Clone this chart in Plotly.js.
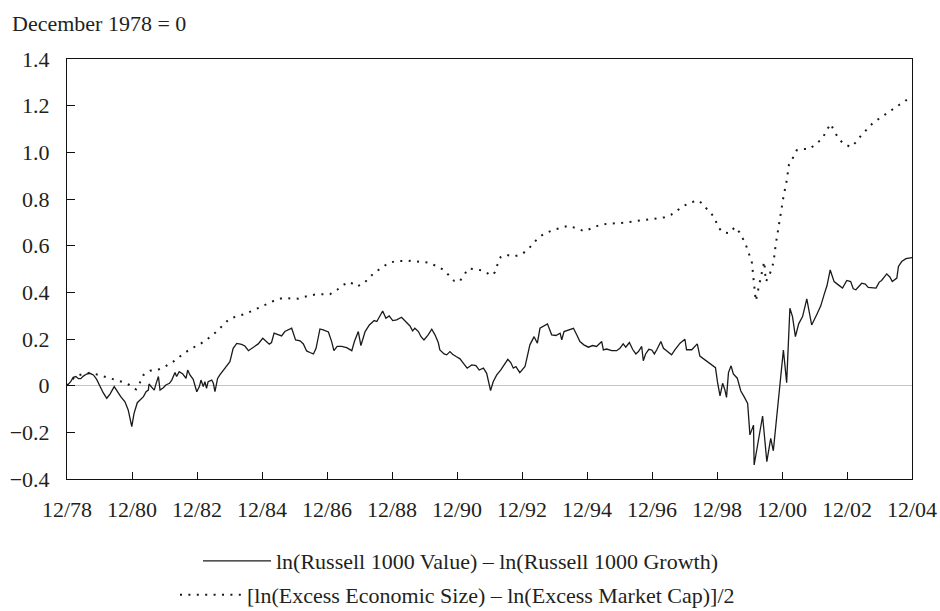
<!DOCTYPE html>
<html>
<head>
<meta charset="utf-8">
<script src="https://cdn.plot.ly/plotly-3.0.1.min.js"></script>
<style>html,body{margin:0;padding:0;background:#fff;}#chart{width:940px;height:611px;}</style>
</head>
<body>
<div id="chart"></div>
<script>
// Series 1: ln(Russell 1000 Value) - ln(Russell 1000 Growth) (decimal years)
var valueGrowthYears = [
1978.92,1979.03,1979.11,1979.19,1979.27,1979.34,1979.42,1979.52,1979.62,1979.73,1979.83,1979.93,
1980.03,1980.14,1980.24,1980.37,1980.47,1980.57,1980.70,1980.80,1980.91,1980.98,
1981.08,1981.18,1981.27,1981.35,1981.42,1981.44,1981.52,1981.60,1981.66,1981.73,1981.78,1981.88,1981.96,
1982.07,1982.14,1982.24,1982.29,1982.37,1982.48,1982.58,1982.63,1982.70,1982.80,1982.91,1982.99,
1983.04,1983.11,1983.16,1983.21,1983.26,1983.37,1983.42,1983.47,1983.55,1983.62,1983.73,1983.83,1983.93,
1984.03,1984.14,1984.29,1984.39,1984.50,1984.60,1984.70,1984.80,
1984.94,1985.04,1985.14,1985.21,1985.29,1985.39,1985.52,1985.62,1985.73,1985.83,1985.95,
1986.09,1986.19,1986.29,1986.39,1986.50,1986.58,1986.70,1986.80,1986.96,
1987.06,1987.13,1987.23,1987.37,1987.52,1987.68,1987.76,1987.88,1987.96,
1988.09,1988.22,1988.37,1988.45,1988.55,1988.63,1988.73,1988.83,1988.94,
1989.06,1989.21,1989.37,1989.47,1989.55,1989.62,1989.73,1989.81,1989.90,
1990.03,1990.14,1990.24,1990.34,1990.39,1990.52,1990.60,1990.70,1990.78,1990.89,
1991.01,1991.11,1991.23,1991.37,1991.50,1991.60,1991.73,1991.83,1991.95,
1992.03,1992.14,1992.26,1992.36,1992.48,1992.57,1992.65,1992.73,1992.85,
1993.01,1993.11,1993.16,1993.29,1993.39,1993.47,1993.57,1993.70,1993.83,1993.96,
1994.09,1994.14,1994.21,1994.34,1994.50,1994.60,1994.70,1994.82,1994.96,
1995.09,1995.21,1995.37,1995.42,1995.52,1995.68,1995.83,1995.93,
1996.03,1996.11,1996.22,1996.32,1996.42,1996.50,1996.60,1996.65,1996.72,1996.82,1996.91,1996.99,
1997.06,1997.19,1997.27,1997.39,1997.52,1997.62,1997.78,1997.93,1997.98,
1998.14,1998.31,1998.39,1998.55,1998.70,1998.87,1998.93,
1999.01,1999.09,1999.16,1999.21,1999.27,1999.35,1999.42,1999.54,1999.65,1999.75,1999.86,1999.93,
2000.04,2000.06,2000.19,2000.32,2000.45,2000.57,2000.65,2000.77,2000.86,2000.96,
2001.06,2001.16,2001.24,2001.33,2001.43,2001.55,2001.68,2001.83,2001.98,
2002.11,2002.21,2002.30,2002.40,2002.52,2002.65,2002.78,2002.91,
2003.03,2003.11,2003.19,2003.37,2003.48,2003.57,2003.81,2003.91,2003.98,
2004.14,2004.24,2004.31,2004.45,2004.50,2004.60,2004.73,2004.86,2004.92
];
var valueGrowth = [
0.000,0.017,0.036,0.039,0.030,0.030,0.041,0.050,0.053,0.046,0.027,-0.004,
-0.030,-0.054,-0.036,-0.004,-0.026,-0.047,-0.069,-0.104,-0.176,-0.119,
-0.073,-0.061,-0.047,-0.026,-0.019,0.007,-0.004,-0.019,0.010,0.039,-0.019,-0.009,0.003,
0.010,0.024,0.056,0.039,0.060,0.050,0.031,0.067,0.046,0.027,-0.026,-0.004,
0.024,-0.004,0.017,-0.011,0.017,0.024,0.010,-0.026,0.031,0.046,0.067,0.089,0.103,
0.160,0.181,0.177,0.170,0.150,0.160,0.171,0.179,
0.203,0.189,0.178,0.185,0.225,0.220,0.213,0.232,0.239,0.246,0.196,
0.192,0.179,0.149,0.142,0.136,0.160,0.243,0.239,0.230,
0.189,0.150,0.168,0.168,0.163,0.150,0.189,0.232,0.172,
0.232,0.260,0.279,0.275,0.303,0.320,0.289,0.299,0.279,
0.282,0.293,0.270,0.256,0.235,0.246,0.232,0.210,0.196,
0.218,0.242,0.218,0.185,0.153,0.136,0.132,0.146,0.135,0.125,
0.115,0.097,0.075,0.089,0.086,0.067,0.075,0.053,-0.021,
0.017,0.046,0.067,0.089,0.113,0.099,0.075,0.082,0.056,
0.082,0.139,0.175,0.210,0.182,0.246,0.253,0.265,0.218,0.215,
0.225,0.196,0.232,0.239,0.246,0.218,0.189,0.175,0.165,
0.172,0.168,0.189,0.153,0.157,0.150,0.150,0.160,
0.179,0.165,0.185,0.156,0.136,0.146,0.168,0.107,0.136,0.156,0.153,0.136,
0.153,0.189,0.160,0.146,0.132,0.153,0.182,0.199,0.154,
0.154,0.179,0.127,0.110,0.093,0.077,0.017,
-0.044,0.010,-0.018,-0.050,0.056,0.085,0.050,0.032,-0.023,-0.047,-0.076,-0.211,
-0.169,-0.340,-0.233,-0.130,-0.326,-0.226,-0.279,-0.119,0.010,0.153,
0.013,0.332,0.296,0.210,0.265,0.296,0.372,0.260,0.303,
0.342,0.389,0.428,0.496,0.446,0.432,0.418,0.451,
0.446,0.415,0.411,0.439,0.435,0.421,0.418,0.444,0.451,
0.479,0.465,0.446,0.461,0.511,0.532,0.544,0.549,0.549
];

// Series 2: [ln(Excess Economic Size) - ln(Excess Market Cap)]/2
var sizeCapYears = [
1978.92,1979.16,1979.40,1979.65,1979.88,1980.12,1980.36,1980.60,1980.84,1981.04,1981.16,1981.27,1981.47,1981.70,1981.92,
1982.15,1982.34,1982.54,1982.74,1982.97,1983.17,1983.38,1983.57,1983.73,1983.91,1984.14,1984.39,1984.62,
1984.86,1985.08,1985.30,1985.53,1985.78,1986.03,1986.27,1986.52,1986.76,1987.01,1987.23,1987.42,1987.62,1987.83,
1988.03,1988.20,1988.38,1988.59,1988.80,1989.04,1989.29,1989.53,1989.78,1990.02,1990.26,1990.48,1990.66,1990.83,1990.99,
1991.13,1991.27,1991.50,1991.75,1991.96,1992.09,1992.16,1992.26,1992.42,1992.67,1992.92,1993.11,1993.27,1993.44,1993.65,1993.88,
1994.12,1994.35,1994.60,1994.83,1995.07,1995.30,1995.54,1995.78,1996.03,1996.29,1996.55,1996.78,1997.04,1997.29,1997.50,1997.71,
1997.90,1998.14,1998.37,1998.55,1998.72,1998.86,1998.94,1999.09,1999.30,1999.47,1999.61,1999.73,1999.83,1999.91,1999.99,
2000.11,2000.37,2000.42,2000.50,2000.60,2000.66,2000.72,2000.80,2000.88,2000.96,2001.06,2001.13,2001.25,2001.37,2001.55,2001.76,
2001.96,2002.16,2002.27,2002.41,2002.53,2002.65,2002.81,2003.04,2003.19,2003.35,2003.52,2003.69,2003.89,2004.09,2004.30,2004.51,2004.72,2004.92
];
var sizeCap = [
0.000,0.039,0.050,0.056,0.046,0.036,0.027,0.017,0.003,-0.016,0.013,0.046,0.064,0.067,0.081,
0.099,0.120,0.141,0.160,0.174,0.193,0.214,0.239,0.260,0.286,0.297,0.307,0.321,
0.336,0.351,0.365,0.375,0.375,0.373,0.382,0.390,0.392,0.392,0.411,0.432,0.445,0.425,
0.436,0.461,0.485,0.504,0.525,0.534,0.535,0.535,0.531,0.528,0.514,0.498,0.474,0.449,0.445,
0.474,0.502,0.499,0.492,0.472,0.486,0.518,0.551,0.561,0.554,0.564,0.585,0.611,0.637,0.654,0.667,
0.677,0.685,0.674,0.662,0.675,0.688,0.694,0.695,0.698,0.703,0.708,0.711,0.717,0.721,0.732,0.754,
0.771,0.787,0.793,0.765,0.742,0.714,0.682,0.657,0.654,0.680,0.657,0.625,0.594,0.561,0.528,
0.363,0.532,0.446,0.465,0.500,0.532,0.601,0.671,0.740,0.808,0.877,0.946,0.976,1.009,1.014,1.014,
1.036,1.059,1.089,1.122,1.090,1.061,1.036,1.023,1.043,1.072,1.097,1.122,1.143,1.162,1.183,1.205,1.222,1.238
];

var xTickVals = [1978.917,1980.917,1982.917,1984.917,1986.917,1988.917,1990.917,1992.917,1994.917,1996.917,1998.917,2000.917,2002.917,2004.917];
var xTickText = ['12/78','12/80','12/82','12/84','12/86','12/88','12/90','12/92','12/94','12/96','12/98','12/00','12/02','12/04'];
var yTickVals = [-0.4,-0.2,0,0.2,0.4,0.6,0.8,1.0,1.2,1.4];
var yTickText = ['\u22120.4','\u22120.2','0','0.2','0.4','0.6','0.8','1.0','1.2','1.4'];

var serif = '"Liberation Serif", "Times New Roman", serif';
var ink = '#231f20';

var traces = [
  {x: valueGrowthYears, y: valueGrowth, type: 'scatter', mode: 'lines',
   name: 'ln(Russell 1000 Value) \u2013 ln(Russell 1000 Growth)',
   line: {color: '#1a1a1a', width: 1.3}, legend: 'legend'},
  {x: sizeCapYears, y: sizeCap, type: 'scatter', mode: 'lines',
   name: '[ln(Excess Economic Size) \u2013 ln(Excess Market Cap)]/2',
   line: {color: '#1a1a1a', width: 2, dash: '2px,6.4px'}, legend: 'legend2'}
];

var layout = {
  width: 940, height: 611,
  margin: {l: 67, r: 28, t: 59, b: 132, pad: 0, autoexpand: false},
  paper_bgcolor: '#fff', plot_bgcolor: '#fff',
  font: {family: serif, color: ink, size: 22},
  title: {text: 'December 1978 = 0', font: {family: serif, size: 22, color: ink},
          x: 12/940, xanchor: 'left', xref: 'container',
          y: 1 - 23/611, yanchor: 'middle', yref: 'container'},
  xaxis: {range: [1978.917, 2004.917], tickvals: xTickVals, ticktext: xTickText,
          ticks: 'inside', ticklen: 7, tickwidth: 1, tickcolor: '#111',
          showline: true, linecolor: '#111', linewidth: 1, mirror: true,
          showgrid: false, zeroline: false, ticklabelstandoff: 11,
          tickfont: {family: serif, size: 22, color: ink}},
  yaxis: {range: [-0.4, 1.4], tickvals: yTickVals, ticktext: yTickText,
          ticks: 'inside', ticklen: 8, tickwidth: 1, tickcolor: '#111',
          showline: true, linecolor: '#111', linewidth: 1, mirror: true,
          showgrid: false, zeroline: true, zerolinecolor: '#c4c4c4', zerolinewidth: 1.5,
          ticklabelstandoff: 12,
          tickfont: {family: serif, size: 22, color: ink}},
  showlegend: true,
  legend: {x: (198 - 67)/845, xanchor: 'left', y: (479 - 561)/420, yanchor: 'middle',
           orientation: 'v', itemwidth: 68, bgcolor: 'rgba(0,0,0,0)',
           font: {family: serif, size: 22, color: ink}},
  legend2: {x: (175 - 67)/845, xanchor: 'left', y: (479 - 595)/420, yanchor: 'middle',
           orientation: 'v', itemwidth: 62, bgcolor: 'rgba(0,0,0,0)',
           font: {family: serif, size: 22, color: ink}}
};

Plotly.newPlot('chart', traces, layout, {displayModeBar: false, staticPlot: true});
</script>
</body>
</html>
